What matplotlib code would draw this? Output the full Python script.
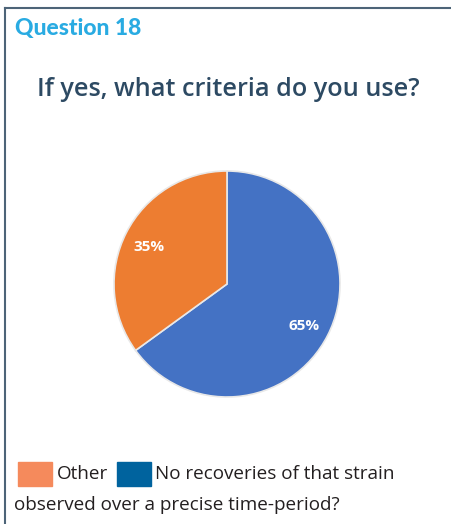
import matplotlib
matplotlib.use("Agg")
import matplotlib.pyplot as plt
from matplotlib.patches import Rectangle
from matplotlib.lines import Line2D

labels = ["No recoveries of that strain observed over a precise time-period?", "Other"]
values = [65, 35]
pie_colors = ["#4472C4", "#ED7D31"]
legend_colors = ["#00639E", "#F58A5C"]

fig = plt.figure(figsize=(4.52, 5.24), dpi=100)
W, H = 452, 524

def fx(px):
    return px / W

def fy(py):
    return 1 - py / H

# frame lines along the top and left edges
frame_color = "#4d6478"
fig.add_artist(Line2D([fx(5), 1.0], [fy(8), fy(8)], color=frame_color, lw=1.5, transform=fig.transFigure))
fig.add_artist(Line2D([fx(5), fx(5)], [fy(8), 0.0], color=frame_color, lw=1.5, transform=fig.transFigure))

fig.text(fx(15), fy(28), "Question 18", color="#29ABE2", fontsize=16.5, fontweight="black",
         family="Lato", va="center", ha="left")
fig.text(fx(37), fy(90), "If yes, what criteria do you use?", color="#2D4A63", fontsize=18.2,
         fontweight="semibold", family="Open Sans", va="center", ha="left")

# pie
r = 113
cx, cy = 227, 284
ax = fig.add_axes([fx(cx - r), fy(cy + r), 2 * r / W, 2 * r / H])
wedges, texts = ax.pie(values, colors=pie_colors, startangle=90, counterclock=False,
                       wedgeprops=dict(edgecolor="#e8e8e8", linewidth=1.2))
ax.set_aspect("auto")
ax.set_xlim(-1, 1)
ax.set_ylim(-1, 1)
ax.axis("off")
ax.text(0.68, -0.37, f"{values[0]}%", color="white", fontsize=11, fontweight="bold",
        family="Open Sans", ha="center", va="center")
ax.text(-0.69, 0.33, f"{values[1]}%", color="white", fontsize=11, fontweight="bold",
        family="Open Sans", ha="center", va="center")

# legend
fig.add_artist(Rectangle((fx(18), fy(486)), 34 / W, 24 / H, color=legend_colors[1], transform=fig.transFigure))
fig.add_artist(Rectangle((fx(117), fy(486)), 34 / W, 24 / H, color=legend_colors[0], transform=fig.transFigure))
fig.text(fx(57), fy(474), labels[1], fontsize=13.6, color="#231F20", family="Open Sans", va="center", ha="left")
fig.text(fx(155), fy(474), "No recoveries of that strain", fontsize=13.6, color="#231F20",
         family="Open Sans", va="center", ha="left")
fig.text(fx(14), fy(505), "observed over a precise time-period?", fontsize=13.6, color="#231F20",
         family="Open Sans", va="center", ha="left")

fig.savefig("out.png", dpi=100)
